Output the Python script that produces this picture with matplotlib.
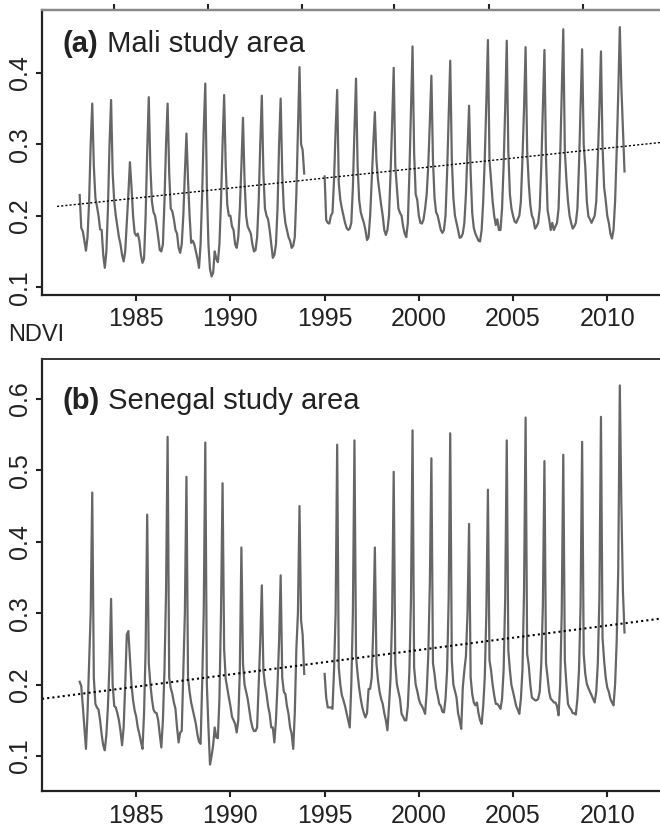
import numpy as np
import matplotlib
matplotlib.use('Agg')
import matplotlib.pyplot as plt

plt.rcParams['font.family'] = ['Liberation Sans', 'DejaVu Sans']

# Monthly NDVI, one row per year (Jan..Dec)
mali_years1 = [1982, 1993]
mali_seg1 = [
    [0.229, 0.183, 0.178, 0.165, 0.151, 0.170, 0.220, 0.300, 0.357, 0.270, 0.225, 0.213],
    [0.200, 0.181, 0.180, 0.145, 0.127, 0.150, 0.210, 0.300, 0.362, 0.260, 0.220, 0.200],
    [0.185, 0.170, 0.160, 0.145, 0.136, 0.150, 0.190, 0.230, 0.275, 0.240, 0.200, 0.176],
    [0.172, 0.175, 0.165, 0.145, 0.134, 0.140, 0.200, 0.290, 0.366, 0.270, 0.220, 0.205],
    [0.200, 0.186, 0.170, 0.152, 0.150, 0.160, 0.220, 0.300, 0.357, 0.260, 0.210, 0.206],
    [0.195, 0.180, 0.175, 0.155, 0.148, 0.160, 0.200, 0.260, 0.315, 0.250, 0.200, 0.162],
    [0.165, 0.160, 0.150, 0.140, 0.127, 0.160, 0.230, 0.320, 0.385, 0.240, 0.160, 0.125],
    [0.115, 0.120, 0.150, 0.140, 0.135, 0.160, 0.220, 0.300, 0.369, 0.270, 0.215, 0.200],
    [0.200, 0.185, 0.180, 0.160, 0.155, 0.170, 0.210, 0.270, 0.337, 0.250, 0.200, 0.185],
    [0.180, 0.175, 0.160, 0.150, 0.152, 0.170, 0.220, 0.300, 0.368, 0.260, 0.210, 0.200],
    [0.195, 0.180, 0.160, 0.141, 0.145, 0.160, 0.210, 0.300, 0.364, 0.260, 0.210, 0.190],
    [0.180, 0.170, 0.165, 0.155, 0.158, 0.170, 0.230, 0.320, 0.408, 0.300, 0.292, 0.259],
]
mali_years2 = [1995, 2010]
mali_seg2 = [
    [0.255, 0.194, 0.190, 0.189, 0.200, 0.204, 0.250, 0.320, 0.376, 0.246, 0.222, 0.210],
    [0.200, 0.190, 0.183, 0.180, 0.182, 0.190, 0.240, 0.320, 0.392, 0.270, 0.222, 0.205],
    [0.197, 0.190, 0.180, 0.166, 0.170, 0.200, 0.250, 0.300, 0.345, 0.278, 0.250, 0.232],
    [0.215, 0.200, 0.180, 0.173, 0.180, 0.200, 0.260, 0.330, 0.407, 0.270, 0.240, 0.210],
    [0.204, 0.200, 0.185, 0.175, 0.170, 0.190, 0.260, 0.350, 0.437, 0.288, 0.230, 0.222],
    [0.200, 0.190, 0.189, 0.195, 0.210, 0.230, 0.270, 0.330, 0.396, 0.278, 0.225, 0.205],
    [0.200, 0.190, 0.180, 0.176, 0.180, 0.200, 0.260, 0.340, 0.417, 0.280, 0.225, 0.200],
    [0.190, 0.180, 0.169, 0.170, 0.175, 0.190, 0.230, 0.290, 0.354, 0.260, 0.204, 0.183],
    [0.175, 0.170, 0.165, 0.164, 0.180, 0.220, 0.280, 0.360, 0.446, 0.278, 0.250, 0.220],
    [0.200, 0.187, 0.195, 0.180, 0.180, 0.210, 0.270, 0.350, 0.445, 0.290, 0.230, 0.210],
    [0.200, 0.192, 0.190, 0.195, 0.200, 0.220, 0.280, 0.350, 0.436, 0.290, 0.246, 0.215],
    [0.200, 0.195, 0.182, 0.185, 0.190, 0.210, 0.270, 0.350, 0.432, 0.280, 0.208, 0.195],
    [0.180, 0.190, 0.180, 0.185, 0.190, 0.210, 0.280, 0.370, 0.461, 0.290, 0.250, 0.220],
    [0.200, 0.190, 0.182, 0.185, 0.190, 0.210, 0.270, 0.350, 0.433, 0.300, 0.269, 0.220],
    [0.199, 0.195, 0.190, 0.195, 0.200, 0.220, 0.280, 0.350, 0.430, 0.297, 0.240, 0.222],
    [0.200, 0.190, 0.175, 0.168, 0.180, 0.220, 0.290, 0.370, 0.464, 0.380, 0.320, 0.262],
]

sen_years1 = [1982, 1993]
sen_seg1 = [
    [0.204, 0.198, 0.170, 0.140, 0.110, 0.160, 0.230, 0.300, 0.469, 0.210, 0.173, 0.168],
    [0.165, 0.150, 0.130, 0.115, 0.108, 0.130, 0.170, 0.230, 0.320, 0.200, 0.170, 0.168],
    [0.160, 0.150, 0.135, 0.115, 0.140, 0.200, 0.270, 0.275, 0.238, 0.200, 0.178, 0.164],
    [0.155, 0.140, 0.131, 0.120, 0.110, 0.160, 0.250, 0.438, 0.230, 0.201, 0.180, 0.165],
    [0.161, 0.160, 0.150, 0.130, 0.112, 0.150, 0.220, 0.330, 0.547, 0.210, 0.195, 0.187],
    [0.175, 0.166, 0.140, 0.119, 0.133, 0.135, 0.220, 0.300, 0.491, 0.210, 0.190, 0.175],
    [0.165, 0.155, 0.145, 0.130, 0.120, 0.117, 0.200, 0.300, 0.539, 0.200, 0.140, 0.088],
    [0.100, 0.115, 0.140, 0.126, 0.125, 0.180, 0.300, 0.482, 0.250, 0.208, 0.195, 0.182],
    [0.170, 0.155, 0.150, 0.145, 0.133, 0.150, 0.220, 0.392, 0.230, 0.200, 0.190, 0.180],
    [0.165, 0.150, 0.140, 0.135, 0.135, 0.140, 0.200, 0.260, 0.339, 0.220, 0.200, 0.187],
    [0.170, 0.159, 0.140, 0.140, 0.119, 0.150, 0.200, 0.260, 0.353, 0.210, 0.190, 0.187],
    [0.170, 0.159, 0.140, 0.131, 0.110, 0.160, 0.250, 0.300, 0.450, 0.290, 0.270, 0.215],
]
sen_years2 = [1995, 2010]
sen_seg2 = [
    [0.215, 0.182, 0.168, 0.168, 0.168, 0.166, 0.220, 0.300, 0.536, 0.224, 0.200, 0.185],
    [0.178, 0.170, 0.160, 0.150, 0.140, 0.200, 0.300, 0.542, 0.240, 0.215, 0.195, 0.180],
    [0.168, 0.160, 0.154, 0.160, 0.194, 0.194, 0.210, 0.280, 0.392, 0.230, 0.206, 0.190],
    [0.180, 0.173, 0.160, 0.150, 0.136, 0.170, 0.210, 0.300, 0.498, 0.230, 0.201, 0.190],
    [0.180, 0.159, 0.155, 0.150, 0.150, 0.170, 0.220, 0.320, 0.556, 0.224, 0.200, 0.191],
    [0.180, 0.173, 0.170, 0.165, 0.159, 0.190, 0.240, 0.340, 0.517, 0.230, 0.215, 0.195],
    [0.185, 0.173, 0.170, 0.162, 0.161, 0.180, 0.220, 0.320, 0.552, 0.234, 0.200, 0.191],
    [0.182, 0.160, 0.150, 0.138, 0.196, 0.220, 0.240, 0.300, 0.425, 0.210, 0.187, 0.175],
    [0.171, 0.175, 0.160, 0.150, 0.145, 0.170, 0.210, 0.300, 0.473, 0.234, 0.220, 0.200],
    [0.185, 0.173, 0.173, 0.170, 0.166, 0.180, 0.220, 0.320, 0.542, 0.248, 0.220, 0.199],
    [0.190, 0.180, 0.170, 0.165, 0.159, 0.180, 0.220, 0.330, 0.574, 0.243, 0.227, 0.200],
    [0.182, 0.180, 0.178, 0.178, 0.180, 0.190, 0.230, 0.310, 0.513, 0.230, 0.210, 0.190],
    [0.180, 0.178, 0.175, 0.175, 0.170, 0.157, 0.200, 0.300, 0.522, 0.234, 0.200, 0.173],
    [0.168, 0.165, 0.160, 0.160, 0.158, 0.180, 0.220, 0.310, 0.540, 0.243, 0.215, 0.201],
    [0.195, 0.190, 0.185, 0.180, 0.175, 0.190, 0.230, 0.320, 0.575, 0.266, 0.234, 0.210],
    [0.196, 0.190, 0.180, 0.175, 0.171, 0.200, 0.260, 0.360, 0.619, 0.450, 0.330, 0.273],
]

# linear trend lines (end points)
mali_trend_x = [1980.8, 2013.0]
mali_trend_y = [0.213, 0.303]
sen_trend_x = [1980.0, 2013.0]
sen_trend_y = [0.180, 0.293]

year_ticks = [1985, 1990, 1995, 2000, 2005, 2010]
mali_top_ticks = [1983.8, 1988.8, 1993.8, 1998.7, 2003.7, 2008.7]
mali_yticks = [0.1, 0.2, 0.3, 0.4]
sen_yticks = [0.1, 0.2, 0.3, 0.4, 0.5, 0.6]


def monthly(years, rows):
    t = np.arange(years[0], years[1] + 1, dtype=float)[:, None] + np.arange(12)[None, :] / 12
    return t.ravel(), np.array(rows).ravel()


fig = plt.figure(figsize=(6.6, 8.3), dpi=100)
ax1 = fig.add_axes([42 / 660, 1 - 295 / 830, 618 / 660, 285 / 830])
ax2 = fig.add_axes([42 / 660, 1 - 791 / 830, 618 / 660, 432 / 830])

line_c = '#666666'
for ax, segs in [(ax1, [(mali_years1, mali_seg1), (mali_years2, mali_seg2)]),
                 (ax2, [(sen_years1, sen_seg1), (sen_years2, sen_seg2)])]:
    for yrs, rows in segs:
        t, v = monthly(yrs, rows)
        ax.plot(t, v, color=line_c, lw=1.6)

ax1.plot(mali_trend_x, mali_trend_y, color='black', lw=1.0, ls=(0, (1.5, 1.5)))
ax2.plot(sen_trend_x, sen_trend_y, color='black', lw=1.5, ls=(0, (1, 1.5)))

ax1.set_xlim(1980, 2012.8)
ax2.set_xlim(1980, 2012.8)
ax1.set_ylim(0.089, 0.488)
ax2.set_ylim(0.051, 0.656)

for ax, yt in [(ax1, mali_yticks), (ax2, sen_yticks)]:
    ax.set_xticks(year_ticks)
    ax.set_xticklabels([str(y) for y in year_ticks], fontsize=18)
    ax.set_yticks(yt)
    ax.set_yticklabels([f'{v:.1f}' for v in yt], fontsize=18, rotation=90, va='center')
    ax.tick_params(axis='x', length=4, width=1.5, pad=5, colors='#222222')
    ax.tick_params(axis='y', length=4, width=1.5, pad=3, colors='#222222')
    ax.spines['right'].set_visible(False)
    for s in ['left', 'bottom']:
        ax.spines[s].set_linewidth(1.6)
        ax.spines[s].set_color('#222222')

ax1.spines['top'].set_color('#888888')
ax1.spines['top'].set_linewidth(1.6)
ax2.spines['top'].set_color('#333333')
ax2.spines['top'].set_linewidth(1.4)

top = ax1.secondary_xaxis('top')
top.set_xticks(mali_top_ticks)
top.set_xticklabels([])
top.tick_params(length=4, width=1.5, colors='#222222')
top.spines['top'].set_color('#888888')
top.spines['top'].set_linewidth(1.6)

# panel titles: bold letter followed by plain text
for ax, letter, name, ypos in [(ax1, '(a)', ' Mali study area', 0.88),
                                (ax2, '(b)', ' Senegal study area', 0.903)]:
    t = ax.text(21 / 618, ypos, letter, transform=ax.transAxes, fontsize=21,
                fontweight='bold', color='#222222', va='center', ha='left')
    ax.annotate(name, xy=(1, 0), xycoords=t, fontsize=21, color='#222222',
                va='bottom', ha='left')

fig.text(8 / 660, 1 - 335 / 830, 'NDVI', fontsize=17, color='#222222', va='center', ha='left')

fig.savefig('out.png', dpi=100)
